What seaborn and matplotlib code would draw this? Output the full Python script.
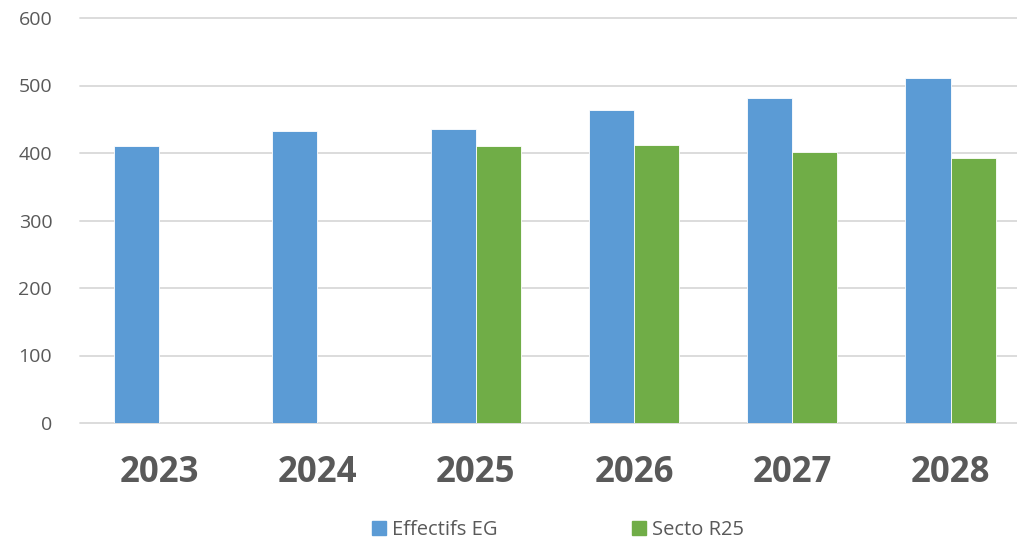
import matplotlib
matplotlib.use("Agg")
import matplotlib.pyplot as plt
import seaborn as sns
import pandas as pd
import numpy as np

years = ["2023", "2024", "2025", "2026", "2027", "2028"]
effectifs_eg = [410, 433, 435, 464, 482, 511]
secto_r25 = [np.nan, np.nan, 410, 412, 401, 393]
series_names = ["Effectifs EG", "Secto R25"]
colors = ["#5B9BD5", "#70AD47"]
yticks = [0, 100, 200, 300, 400, 500, 600]

df = pd.DataFrame({
    "year": years * 2,
    "value": effectifs_eg + secto_r25,
    "series": [series_names[0]] * len(years) + [series_names[1]] * len(years),
})

sns.set_theme(style="white")
plt.rcParams["font.family"] = ["Open Sans", "DejaVu Sans"]
text_color = "#595959"

fig = plt.figure(figsize=(10.17, 5.42), dpi=100)
ax = fig.add_axes([80 / 1017, 1 - 423 / 542, 1 - 80 / 1017, (423 - 18) / 542])

sns.barplot(data=df, x="year", y="value", hue="series", order=years,
            hue_order=series_names, palette=colors, width=0.57,
            saturation=1, ax=ax, legend=False,
            edgecolor="white", linewidth=0.6)

ax.set_ylim(0, 600)
ax.set_xlim(-0.5, 5.42)
ax.set_yticks(yticks)
ax.yaxis.grid(True, color="#D9D9D9", linewidth=1.3)
for gl in ax.get_ygridlines():
    gl.set_clip_on(False)
ax.set_axisbelow(True)
for s in ax.spines.values():
    s.set_visible(False)
ax.set_xlabel("")
ax.set_ylabel("")
ax.tick_params(axis="y", length=0, pad=20, labelsize=14, labelcolor=text_color)
ax.tick_params(axis="x", length=0, pad=23, labelcolor=text_color)
for lbl in ax.get_xticklabels():
    lbl.set_fontsize(25)
    lbl.set_fontweight("bold")

handles = [plt.Rectangle((0, 0), 1, 1, color=c) for c in colors]
leg = fig.legend(handles, series_names, loc="center",
                 bbox_to_anchor=(558 / 1017, 1 - 530 / 542), ncol=2,
                 frameon=False, fontsize=14.5, handlelength=0.7,
                 handleheight=0.7, handletextpad=0.3, columnspacing=6.7)
for t in leg.get_texts():
    t.set_color(text_color)

fig.savefig("out.png", dpi=100)
